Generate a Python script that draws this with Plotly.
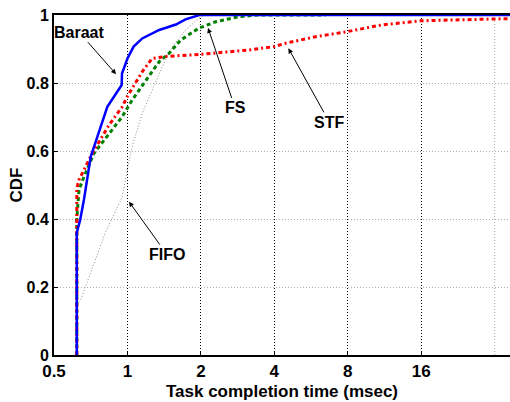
import plotly.graph_objects as go
import math

# ---- data ----
baraat_x = [0.62, 0.62, 0.64, 0.663, 0.707, 0.76, 0.827, 0.947, 0.95, 1.0, 1.06, 1.15, 1.35, 1.58, 1.73, 1.97, 40]
baraat_y = [0.0, 0.36, 0.397, 0.456, 0.583, 0.652, 0.73, 0.794, 0.828, 0.872, 0.907, 0.931, 0.956, 0.972, 0.987, 1.0, 1.0]

fs_x = [0.62, 0.62, 0.633, 0.663, 0.729, 0.84, 0.952, 1.046, 1.19, 1.35, 1.48, 1.65, 1.96, 2.3, 2.86, 3.46, 6.5]
fs_y = [0.0, 0.40, 0.485, 0.524, 0.593, 0.652, 0.701, 0.75, 0.809, 0.863, 0.887, 0.926, 0.961, 0.98, 0.995, 1.0, 1.0]

stf_x = [0.62, 0.62, 0.633, 0.717, 0.84, 0.952, 0.998, 1.15, 1.26, 1.43, 1.96, 2.69, 3.15, 3.98, 4.45, 5.9, 7.95, 11.06, 15.9, 20.7, 40]
stf_y = [0.0, 0.49, 0.515, 0.593, 0.676, 0.73, 0.76, 0.833, 0.872, 0.878, 0.884, 0.892, 0.897, 0.907, 0.917, 0.936, 0.951, 0.971, 0.983, 0.985, 0.99]

fifo_x = [0.62, 0.62, 0.643, 0.815, 0.94, 0.952, 0.998, 1.046, 1.15, 1.26, 1.39, 1.53, 1.73, 1.96, 2.09, 40]
fifo_y = [0.0, 0.15, 0.162, 0.363, 0.456, 0.466, 0.544, 0.613, 0.711, 0.779, 0.848, 0.907, 0.956, 0.99, 1.0, 1.0]

x_ticks = [0.5, 1, 2, 4, 8, 16]
x_tick_labels = ["0.5", "1", "2", "4", "8", "16"]
y_ticks = [0, 0.2, 0.4, 0.6, 0.8, 1]
y_tick_labels = ["0", "0.2", "0.4", "0.6", "0.8", "1"]

labels = ["Baraat", "FS", "STF", "FIFO"]
label_heads_x = [0.898, 2.14, 4.57, 1.015]
label_heads_y = [0.826, 0.962, 0.902, 0.451]
label_ax = [-37, 27, 41, 38]
label_ay = [-42, 80, 74, 53]

FONT = "Liberation Sans, Arial, Helvetica, sans-serif"

fig = go.Figure()
fig.add_trace(go.Scatter(x=fifo_x, y=fifo_y, mode="lines",
                         line=dict(color="#8c8c8c", width=1, dash="1px,2px"), name="FIFO"))
fig.add_trace(go.Scatter(x=fs_x, y=fs_y, mode="lines",
                         line=dict(color="#008000", width=3, dash="4px,3px"), name="FS"))
fig.add_trace(go.Scatter(x=stf_x, y=stf_y, mode="lines",
                         line=dict(color="#ff0000", width=3, dash="4px,3px,2px,3px"), name="STF"))
fig.add_trace(go.Scatter(x=baraat_x, y=baraat_y, mode="lines",
                         line=dict(color="#0000ff", width=2.5), name="Baraat"))

# unlabeled gray grid line at 32
fig.add_shape(type="line", xref="x", yref="paper", x0=32, x1=32, y0=0, y1=1,
              line=dict(color="#aaaaaa", width=1, dash="1px,2px"), layer="below")

for t, hx, hy, ax, ay in zip(labels, label_heads_x, label_heads_y, label_ax, label_ay):
    fig.add_annotation(x=math.log10(hx), y=hy, xref="x", yref="y", text="<b>%s</b>" % t,
                       showarrow=True, ax=ax, ay=ay, axref="pixel", ayref="pixel",
                       arrowhead=2, arrowsize=1, arrowwidth=1, arrowcolor="black",
                       font=dict(family=FONT, size=16, color="black"))

# plot area: left 54, top 15, right 510, bottom 355 (page body margin removed below)
fig.update_layout(
    width=510, height=402,
    margin=dict(l=54, r=0, t=15, b=47),
    paper_bgcolor="white", plot_bgcolor="white",
    showlegend=False,
    font=dict(family=FONT, size=17, color="black"),
)
fig.update_xaxes(
    type="log", range=[math.log10(0.5), math.log10(37)], automargin=False,
    tickvals=x_ticks, ticktext=["<b>%s</b>" % s for s in x_tick_labels],
    tickfont=dict(family=FONT, size=17), ticklabeloverflow="allow",
    showgrid=True, gridcolor="black", griddash="1px,2px", gridwidth=1,
    showline=True, linecolor="black", linewidth=2, mirror=True,
    ticks="inside", ticklen=4, tickcolor="black",
    title=dict(text="<b>Task completion time (msec)</b>", standoff=5,
               font=dict(family=FONT, size=17)),
    zeroline=False,
)
fig.update_yaxes(
    range=[0, 1], automargin=False,
    tickvals=y_ticks, ticktext=["<b>%s</b>" % s for s in y_tick_labels],
    tickfont=dict(family=FONT, size=16), ticklabeloverflow="allow",
    showgrid=True, gridcolor="#b0b0b0", griddash="1px,2px", gridwidth=1,
    showline=True, linecolor="black", linewidth=2, mirror=True,
    ticks="inside", ticklen=4, tickcolor="black",
    title=dict(text="<b>CDF</b>", standoff=0, font=dict(family=FONT, size=17)),
    zeroline=False,
)
fig.write_html("out.html",
               config={"displayModeBar": False},
               post_script="document.body.style.margin='0';document.body.style.overflow='hidden';")
